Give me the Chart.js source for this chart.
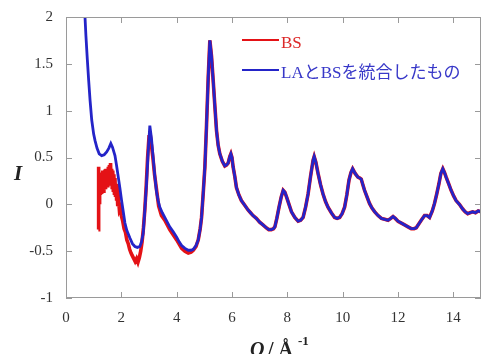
<!DOCTYPE html>
<html>
<head>
<meta charset="utf-8">
<script src="https://cdn.jsdelivr.net/npm/chart.js@4/dist/chart.umd.min.js"></script>
<style>
  html, body { margin: 0; padding: 0; background: #fff; }
  #wrap { position: relative; width: 481px; height: 354px; }
</style>
</head>
<body>
<div id="wrap"><canvas id="chart"></canvas></div>
<script>
// BS only, low-Q part (noisy band near Q = 1.2 - 1.9)
const qBS = [1.17, 1.17, 1.18, 1.19, 1.20, 1.21, 1.22, 1.23, 1.24, 1.25, 1.27, 1.29, 1.31, 1.33, 1.35, 1.37,
  1.39, 1.41, 1.43, 1.45, 1.47, 1.49, 1.51, 1.53, 1.55, 1.57, 1.59, 1.61, 1.63, 1.65, 1.67, 1.69, 1.71,
  1.73, 1.75, 1.77, 1.79, 1.81, 1.83, 1.85, 1.87, 1.90, 1.93, 1.96, 2.00, 2.05, 2.10, 2.15, 2.20, 2.25,
  2.30, 2.35, 2.40, 2.45, 2.50, 2.55, 2.60, 2.65, 2.70, 2.75, 2.80, 2.85, 2.90, 2.95, 3.00, 3.03, 3.08,
  3.14, 3.20, 3.27, 3.35, 3.45, 3.57, 3.75, 4.00, 4.18, 4.30, 4.42, 4.52, 4.60, 4.70]
const iBS = [-0.27, 0.40, 0.08, 0.36, 0.02, 0.33, 0.12, 0.30, 0.10, 0.32, 0.13, 0.34, 0.15, 0.36, 0.14, 0.33,
  0.18, 0.37, 0.16, 0.38, 0.20, 0.36, 0.18, 0.40, 0.22, 0.42, 0.20, 0.44, 0.22, 0.38, 0.18, 0.36, 0.15,
  0.32, 0.12, 0.28, 0.08, 0.22, 0.04, 0.14, -0.02, 0.05, -0.06, -0.04, -0.12, -0.18, -0.26, -0.30, -0.38, -0.42,
  -0.48, -0.52, -0.55, -0.58, -0.61, -0.58, -0.62, -0.57, -0.50, -0.40, -0.25, -0.05, 0.20, 0.50, 0.72, 0.78, 0.65,
  0.50, 0.32, 0.16, -0.02, -0.12, -0.17, -0.27, -0.38, -0.47, -0.50, -0.52, -0.51, -0.49, -0.45]

// LA + BS merged, low-Q part
const qMerged = [0.67, 0.72, 0.77, 0.82, 0.87, 0.93, 1.00, 1.05, 1.12, 1.20, 1.29, 1.38, 1.47, 1.55, 1.62,
  1.68, 1.73, 1.77, 1.83, 1.89, 1.95, 2.01, 2.07, 2.13, 2.20, 2.31, 2.40, 2.49, 2.58, 2.67, 2.73, 2.79,
  2.85, 2.91, 2.97, 3.03, 3.09, 3.15, 3.21, 3.27, 3.33, 3.39, 3.48, 3.57, 3.66, 3.75, 3.87, 4.00, 4.09,
  4.18, 4.30, 4.42, 4.52, 4.60, 4.70]
const iMerged = [2.10, 1.80, 1.55, 1.32, 1.11, 0.90, 0.75, 0.68, 0.60, 0.54, 0.52, 0.53, 0.56, 0.60, 0.65,
  0.61, 0.56, 0.52, 0.41, 0.29, 0.17, 0.04, -0.08, -0.20, -0.28, -0.36, -0.42, -0.45, -0.46, -0.45, -0.40, -0.31,
  -0.06, 0.22, 0.56, 0.84, 0.70, 0.50, 0.30, 0.14, 0.04, -0.03, -0.09, -0.14, -0.19, -0.24, -0.29, -0.35, -0.40,
  -0.44, -0.47, -0.49, -0.49, -0.48, -0.44]

// above Q ~ 4.7 both curves lie on top of each other
const qTail = [4.78, 4.85, 4.90, 4.96, 5.02, 5.08, 5.14, 5.20, 5.26, 5.32, 5.38, 5.44, 5.50, 5.56, 5.65, 5.74,
  5.80, 5.86, 5.92, 5.96, 6.00, 6.04, 6.10, 6.16, 6.25, 6.34, 6.46, 6.58, 6.67, 6.76, 6.88, 7.00, 7.12,
  7.24, 7.33, 7.42, 7.50, 7.55, 7.62, 7.70, 7.78, 7.85, 7.91, 7.97, 8.06, 8.15, 8.27, 8.39, 8.48, 8.57,
  8.66, 8.75, 8.84, 8.93, 8.97, 9.03, 9.11, 9.20, 9.29, 9.38, 9.47, 9.59, 9.71, 9.80, 9.89, 9.98, 10.07,
  10.15, 10.23, 10.30, 10.36, 10.45, 10.55, 10.62, 10.67, 10.73, 10.79, 10.88, 10.97, 11.06, 11.16, 11.28,
  11.40, 11.52, 11.64, 11.74, 11.82, 11.90, 12.00, 12.12, 12.24, 12.36, 12.48, 12.58, 12.66, 12.75, 12.84,
  12.96, 13.05, 13.14, 13.24, 13.32, 13.40, 13.48, 13.55, 13.62, 13.68, 13.74, 13.83, 13.92, 14.01, 14.10,
  14.22, 14.34, 14.43, 14.52, 14.60, 14.70, 14.80, 14.90, 15.00]
const iTail = [-0.38, -0.26, -0.14, 0.12, 0.40, 0.85, 1.35, 1.75, 1.58, 1.32, 1.05, 0.79, 0.63, 0.54, 0.46, 0.41,
  0.42, 0.44, 0.51, 0.54, 0.50, 0.40, 0.30, 0.18, 0.10, 0.04, -0.01, -0.06, -0.09, -0.12, -0.15, -0.19, -0.22,
  -0.25, -0.27, -0.27, -0.26, -0.24, -0.15, -0.03, 0.08, 0.15, 0.13, 0.08, 0.00, -0.08, -0.14, -0.18, -0.17, -0.14,
  -0.03, 0.11, 0.30, 0.47, 0.51, 0.45, 0.33, 0.21, 0.11, 0.03, -0.03, -0.09, -0.14, -0.15, -0.14, -0.10, -0.03,
  0.10, 0.26, 0.34, 0.38, 0.33, 0.29, 0.28, 0.27, 0.21, 0.15, 0.08, 0.01, -0.04, -0.08, -0.12,
  -0.15, -0.16, -0.17, -0.15, -0.13, -0.15, -0.18, -0.20, -0.22, -0.24, -0.26, -0.26, -0.25, -0.21, -0.17,
  -0.12, -0.12, -0.14, -0.07, 0.01, 0.11, 0.22, 0.33, 0.38, 0.34, 0.29, 0.22, 0.15, 0.09, 0.04,
  0.00, -0.05, -0.08, -0.10, -0.09, -0.08, -0.09, -0.07, -0.08]

const legendLabels = ['BS', 'LAとBSを統合したもの']
const xTicks = { min: 0, max: 15, step: 2 }
const yTicks = { min: -1, max: 2, step: 0.5 }

const RED = 'rgb(228, 18, 22)'
const BLUE = 'rgb(36, 36, 200)'
const SERIF = '"Liberation Serif", "Times New Roman", serif'

const toPoints = (qs, is) => qs.map((q, k) => ({ x: q, y: is[k] }))

// frame with inward ticks on all four sides, legend and axis titles
const framePlugin = {
  id: 'frame',
  afterDatasetsDraw(chart) {
    const { ctx, chartArea: a, scales } = chart
    ctx.save()
    ctx.strokeStyle = '#9a9a9a'
    ctx.lineWidth = 1
    ctx.strokeRect(a.left + 0.5, a.top + 0.5, a.right - a.left - 1, a.bottom - a.top - 1)
    ctx.beginPath()
    scales.x.ticks.forEach(t => {
      const px = Math.round(scales.x.getPixelForValue(t.value)) + 0.5
      ctx.moveTo(px, a.bottom); ctx.lineTo(px, a.bottom - 6)
      ctx.moveTo(px, a.top); ctx.lineTo(px, a.top + 6)
    })
    scales.y.ticks.forEach(t => {
      const py = Math.round(scales.y.getPixelForValue(t.value)) + 0.5
      ctx.moveTo(a.left, py); ctx.lineTo(a.left + 6, py)
      ctx.moveTo(a.right, py); ctx.lineTo(a.right - 6, py)
    })
    ctx.stroke()

    // legend
    const rows = [[RED, 40, 48], [BLUE, 70, 78]]
    ctx.font = '17px ' + SERIF + ', "Noto Sans CJK JP"'
    ctx.textBaseline = 'alphabetic'
    ctx.textAlign = 'left'
    rows.forEach(([color, ly, base], k) => {
      ctx.strokeStyle = color
      ctx.lineWidth = 2
      ctx.beginPath(); ctx.moveTo(242, ly); ctx.lineTo(279, ly); ctx.stroke()
      ctx.fillStyle = k === 0 ? 'rgb(220, 40, 40)' : 'rgb(55, 55, 200)'
      ctx.fillText(legendLabels[k], 281, base)
    })

    // axis titles
    ctx.fillStyle = '#222'
    ctx.font = 'italic bold 21px ' + SERIF
    ctx.textAlign = 'center'
    ctx.fillText('I', 18, 180)
    ctx.textAlign = 'left'
    ctx.font = 'italic bold 20px ' + SERIF
    ctx.fillText('Q', 250, 356)
    ctx.font = 'bold 20px ' + SERIF
    ctx.fillText(' / Å', 263, 356)
    ctx.font = 'bold 13px ' + SERIF
    ctx.fillText('-1', 298, 345)
    ctx.restore()
  }
}

new Chart(document.getElementById('chart'), {
  type: 'scatter',
  data: {
    datasets: [
      {
        label: legendLabels[0],
        data: toPoints(qBS.concat(qTail), iBS.concat(iTail)),
        showLine: true,
        borderColor: RED,
        borderWidth: 3.6,
        pointRadius: 0,
        order: 1
      },
      {
        label: legendLabels[1],
        data: toPoints(qMerged.concat(qTail), iMerged.concat(iTail)),
        showLine: true,
        borderColor: BLUE,
        borderWidth: 2.8,
        pointRadius: 0,
        order: 0
      }
    ]
  },
  options: {
    responsive: true,
    maintainAspectRatio: false,
    animation: false,
    layout: { padding: { top: 17, right: 0, left: 0, bottom: 0 } },
    plugins: { legend: { display: false }, tooltip: { enabled: false } },
    scales: {
      x: {
        type: 'linear',
        min: xTicks.min,
        max: xTicks.max,
        grid: { display: false },
        border: { display: false },
        ticks: { stepSize: xTicks.step, includeBounds: false, padding: 3, color: '#333', font: { family: SERIF, size: 15 }, callback: v => String(v) },
        afterFit: s => { s.height = 56 }
      },
      y: {
        min: yTicks.min,
        max: yTicks.max,
        grid: { display: false },
        border: { display: false },
        ticks: { stepSize: yTicks.step, padding: 5, color: '#333', font: { family: SERIF, size: 15 }, callback: v => String(v) },
        afterFit: s => { s.width = 66 }
      }
    }
  },
  plugins: [framePlugin]
})
</script>
</body>
</html>
